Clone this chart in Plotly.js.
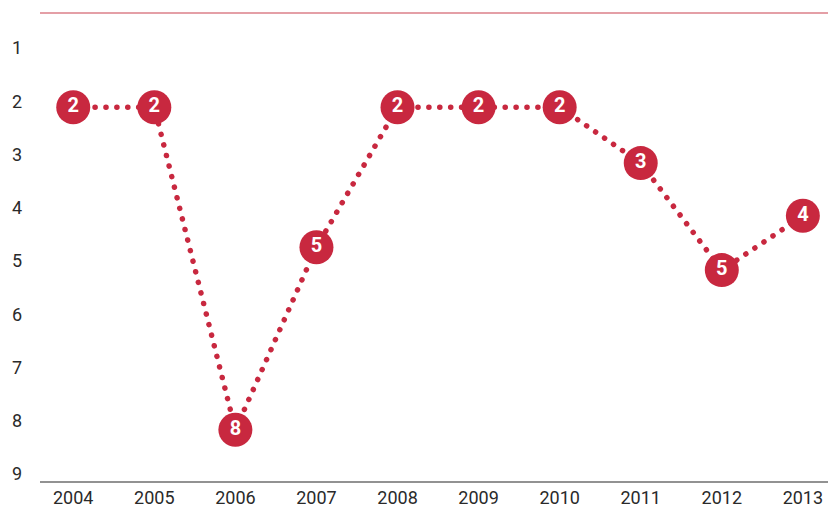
<!DOCTYPE html>
<html>
<head>
<meta charset="utf-8">
<script src="https://cdn.plot.ly/plotly-3.0.1.min.js"></script>
<style>html,body{margin:0;padding:0;background:#fff;}#chart{width:828px;height:513px;}</style>
</head>
<body>
<div id="chart"></div>
<script>
const years = ["2004","2005","2006","2007","2008","2009","2010","2011","2012","2013"];
const rankPosition = [2.11, 2.11, 8.17, 4.74, 2.11, 2.11, 2.11, 3.16, 5.17, 4.15];
const rankLabels = ["2","2","8","5","2","2","2","3","5","4"];
const yTicks = [1,2,3,4,5,6,7,8,9];

const red = "#c8283f";
const xIdx = years.map((_, i) => i);

const trace = {
  x: xIdx,
  y: rankPosition,
  mode: "lines+markers+text",
  text: rankLabels,
  textposition: "middle center",
  textfont: {family: "Roboto, 'DejaVu Sans'", size: 20, color: "#ffffff", weight: 700},
  line: {color: red, width: 5.5, dash: "0.1px,10.8px"},
  marker: {color: red, size: 34, line: {width: 0}},
  hoverinfo: "skip",
  cliponaxis: false
};

const layout = {
  width: 828, height: 513,
  margin: {l: 40, r: 0, t: 13, b: 31},
  paper_bgcolor: "#fff", plot_bgcolor: "#fff",
  showlegend: false,
  font: {family: "Roboto, 'DejaVu Sans'", size: 18, color: "#2a2a2a"},
  xaxis: {
    range: [-0.41, 9.31],
    tickvals: xIdx, ticktext: years,
    showgrid: false, zeroline: false, showline: false,
    ticks: "", ticklabelstandoff: 3,
    tickfont: {size: 18, color: "#2a2a2a"},
    fixedrange: true
  },
  yaxis: {
    range: [9.15, 0.34],
    tickvals: yTicks, ticktext: yTicks.map(String),
    showgrid: false, zeroline: false, showline: false,
    ticks: "", ticklabelstandoff: 17,
    tickfont: {size: 18, color: "#2a2a2a"},
    fixedrange: true
  },
  shapes: [
    {type: "line", xref: "paper", yref: "paper", x0: 0, x1: 1, y0: 1, y1: 1, line: {color: "#c9404f", width: 1.2}},
    {type: "line", xref: "paper", yref: "paper", x0: 0, x1: 1, y0: 0, y1: 0, line: {color: "#6e6e6e", width: 1.5}}
  ]
};

Plotly.newPlot("chart", [trace], layout, {displayModeBar: false, staticPlot: true}).then(() => {
  document.querySelectorAll("#chart .js-line").forEach(p => {
    p.style.strokeLinecap = "round";
  });
});
</script>
</body>
</html>
